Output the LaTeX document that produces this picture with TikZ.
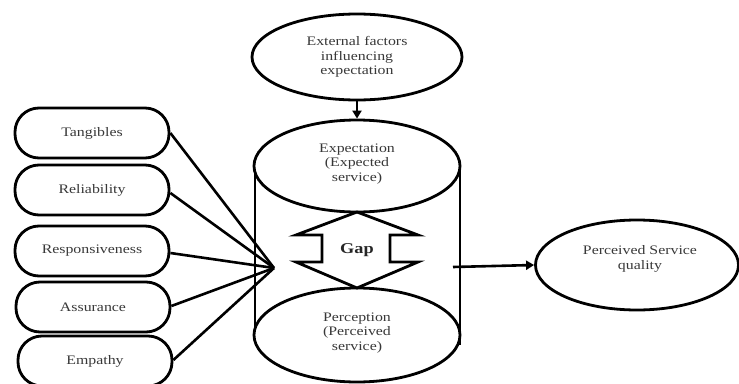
\documentclass[tikz,border=0pt]{standalone}
\usepackage{fontspec}
\setmainfont{Liberation Serif}[FakeStretch=1.22]
\usetikzlibrary{arrows.meta,shapes.geometric}
\begin{document}
\begin{tikzpicture}[x=1pt,y=-1pt,
  lbl/.style={text=black!78,font=\fontsize{13}{14.5}\selectfont,align=center},
  pill/.style={draw,line width=2.8pt,rounded corners=24pt,minimum width=154pt,minimum height=50pt,lbl},
  ell/.style={draw,line width=2.8pt,ellipse,inner sep=0pt},
  conn/.style={line width=2.6pt},
  arr/.style={line width=2.6pt,-{Triangle[length=8pt,width=9pt]}}]
\useasboundingbox (0,0) rectangle (739,383);
\begin{scope}
\clip (0,0) rectangle (739,383);
% pills
\node[pill] (tan) at (92,133) {Tangibles};
\node[pill] (rel) at (92,190) {Reliability};
\node[pill] (res) at (92,251) {Responsiveness};
\node[pill] (ass) at (93,307) {Assurance};
\node[pill] (emp) at (95,361) {Empathy};
\coordinate (conv) at (274,268);
\foreach \n/\y in {tan/133,rel/193,res/253,ass/306,emp/360}
  \draw[conn] (\n.east |- 0,\y) -- (conv);
% cylinder
\draw[line width=2.8pt] (255,166) -- (255,343);
\draw[line width=2.8pt] (460,166) -- (460,345);
\node[ell,fill=white,minimum width=206pt,minimum height=92pt] (expe) at (357,166) {};
\node[ell,fill=white,minimum width=206pt,minimum height=94pt] (perc) at (357,335) {};
\node[lbl] at (357,164) {Expectation\\(Expected\\service)};
\node[lbl] at (357,333) {Perception\\(Perceived\\service)};
% external
\node[ell,minimum width=210pt,minimum height=86pt] (ext) at (357,57) {};
\node[lbl] at (357,57) {External factors\\influencing\\expectation};
\draw[arr] (ext.south) -- (expe.north);
% gap arrow
\draw[line width=2.8pt,line join=miter] (357,212) -- (296,235) -- (322,235) -- (322,262) -- (296,262)
  -- (357,288) -- (418,262) -- (390,262) -- (390,235) -- (418,235) -- cycle;
\node[text=black!85,font=\fontsize{15}{16}\selectfont\bfseries] (gap) at (357,250) {Gap};
% perceived service quality
\node[ell,minimum width=203pt,minimum height=90pt] (psq) at (637,265) {};
\node[lbl] at (640,259) {Perceived Service\\quality};
\coordinate (out) at (453,267);
\draw[arr] (out) -- (psq.west);
\end{scope}
\end{tikzpicture}
\end{document}
